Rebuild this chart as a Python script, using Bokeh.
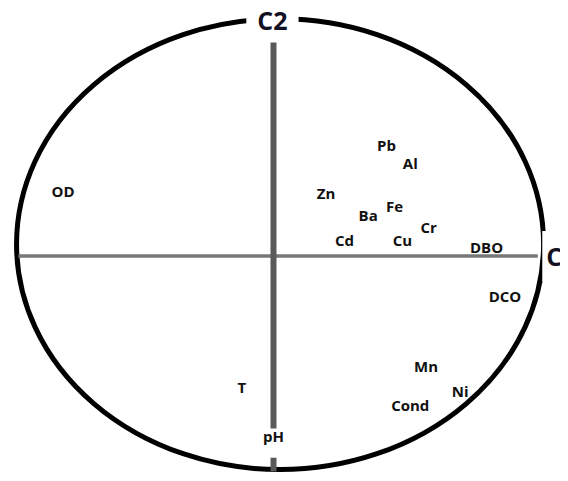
from bokeh.plotting import figure
from bokeh.models import ColumnDataSource, Range1d
from bokeh.core.properties import value
from bokeh.embed import file_html
from bokeh.resources import INLINE

# Variables on the correlation circle (C1, C2)
variables = ["OD", "Pb", "Al", "Zn", "Fe", "Ba", "Cr", "Cd", "Cu", "DBO",
             "DCO", "Mn", "Ni", "Cond", "T", "pH"]
c1 = [-0.80, 0.43, 0.52, 0.20, 0.46, 0.36, 0.59, 0.27, 0.49, 0.81,
      0.88, 0.58, 0.71, 0.52, -0.12, 0.00]
c2 = [0.29, 0.49, 0.41, 0.28, 0.22, 0.18, 0.13, 0.07, 0.07, 0.04,
      -0.18, -0.49, -0.60, -0.66, -0.58, -0.80]

# Axis names
axis_names = ["C1", "C2"]

p = figure(width=560, height=473, output_backend="svg", toolbar_location=None,
           x_range=Range1d(-1.038, 1.0913), y_range=Range1d(-0.965, 1.1326),
           min_border=0, outline_line_color=None)
p.axis.visible = False
p.grid.visible = False
p.background_fill_color = "white"

# outer ellipse (correlation circle)
p.ellipse(x=[0.025], y=[0.052], width=[2.004], height=[2.0],
          fill_color=None, line_color="black", line_width=5)

# horizontal axis
p.segment(x0=[-0.97], y0=[0], x1=[1.005], y1=[0], line_color="#777777", line_width=3.5)
# vertical axis (interrupted by pH label)
p.segment(x0=[0, 0], y0=[0.946, -0.895], x1=[0, 0], y1=[-0.765, -0.955],
          line_color="#5a5a5a", line_width=6)

# axis labels with white background cutting the ellipse
p.text(x=[-0.004], y=[1.044], text=[axis_names[1]], text_align="center",
       text_baseline="middle", text_font=value("Open Sans"), text_font_style="bold",
       text_font_size="25px", text_color="#111122",
       background_fill_color="white", padding=(11, 2))
p.text(x=[1.022], y=[0.0], text=[axis_names[0]], text_align="left",
       text_baseline="middle", text_font=value("Open Sans"), text_font_style="bold",
       text_font_size="25px", text_color="#111122",
       background_fill_color="white", padding=(4, 8))

src = ColumnDataSource(dict(x=c1, y=c2, name=variables))
p.text(x="x", y="y", text="name", source=src, text_align="center",
       text_baseline="middle", text_font=value("Open Sans"), text_font_style="bold",
       text_font_size="15px", text_color="#111111")

open("out.html", "w").write(file_html(p, INLINE))
